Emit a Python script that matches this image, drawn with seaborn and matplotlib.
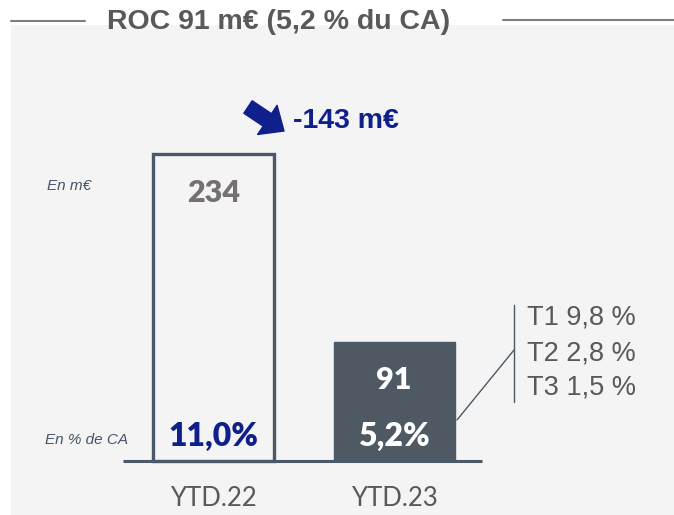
import pandas as pd
import matplotlib
matplotlib.use('Agg')
import matplotlib.pyplot as plt
import seaborn as sns
from matplotlib.lines import Line2D

# data
periods = ['YTD.22', 'YTD.23']
roc_values = [234, 91]
roc_labels = ['234', '91']
pct_labels = ['11,0%', '5,2%']
quarter_labels = ['T1 9,8 %', 'T2 2,8 %', 'T3 1,5 %']
title = 'ROC 91 m€ (5,2 % du CA)'
delta_label = '-143 m€'

slate = '#4a5967'
navy = '#0f1f8c'
grey_txt = '#595959'

sns.set_style('white')
plt.rcParams['font.family'] = ['Liberation Sans', 'DejaVu Sans']

W, H = 674, 515
fig = plt.figure(figsize=(W / 100, H / 100), dpi=100)
fig.patch.set_facecolor('white')


def px(x, y):
    # pixel position (from top-left) -> figure fraction
    return x / W, 1 - y / H


ax = fig.add_axes([11 / W, 0, 1 - 11 / W, (H - 25) / H])
ax.set_facecolor('#f4f4f4')

df = pd.DataFrame({'period': periods, 'roc': roc_values})
sns.barplot(data=df, x='period', y='roc', hue='period',
            palette=['none', slate], width=0.67, legend=False, ax=ax)

bars = ax.patches
bars[0].set_facecolor('none')
bars[0].set_edgecolor(slate)
bars[0].set_linewidth(2.4)
bars[1].set_edgecolor(slate)
bars[1].set_linewidth(1)

ax.set_xlim(-1.122, 2.551)
ax.set_ylim(-41, 332)
ax.hlines(0, -0.5, 1.49, color=slate, lw=2.2, zorder=3)

for i, (v, lab) in enumerate(zip(roc_values, roc_labels)):
    ax.annotate(lab, (i, v), xytext=(0, -28), textcoords='offset points',
                ha='center', va='center', fontsize=22, fontweight='heavy',
                family='Lato', color='#767171' if i == 0 else 'white')
    ax.annotate(pct_labels[i], (i, 0), xytext=(0, 17.5), textcoords='offset points',
                ha='center', va='center', fontsize=23, fontweight='heavy',
                family='Lato', color=navy if i == 0 else 'white')
    ax.annotate(periods[i], (i, 0), xytext=(0, -27), textcoords='offset points',
                ha='center', va='center', fontsize=18.5, family='Lato',
                color=grey_txt)

ax.set_xticks([])
ax.set_yticks([])
ax.set_xlabel('')
ax.set_ylabel('')
sns.despine(ax=ax, left=True, bottom=True)

# title with side rules
fig.text(*px(279, 22), title, ha='center', va='center', fontsize=20.5,
         fontweight='bold', color=grey_txt)
fig.add_artist(Line2D([px(11, 0)[0], px(85, 0)[0]], [px(0, 21)[1]] * 2,
                      color='#7f7f7f', lw=1.5))
fig.add_artist(Line2D([px(503, 0)[0], 1], [px(0, 20)[1]] * 2,
                      color='#7f7f7f', lw=1.5))

# variation arrow
ax.annotate('', xy=px(284, 131), xytext=px(248, 107), xycoords='figure fraction',
            textcoords='figure fraction',
            arrowprops=dict(arrowstyle='simple,head_width=1.4,head_length=0.8,tail_width=0.6',
                            color=navy, mutation_scale=18, shrinkA=0, shrinkB=0))
fig.text(*px(293, 121), delta_label, ha='left', va='center', fontsize=20.5,
         fontweight='bold', color=navy)

# side notes
fig.text(*px(69, 186), 'En m€', ha='center', va='center', fontsize=11,
         style='italic', color='#44546a')
fig.text(*px(87, 440), 'En % de CA', ha='center', va='center', fontsize=11,
         style='italic', color='#44546a')

# quarterly breakdown bracket
fig.add_artist(Line2D([px(514, 0)[0]] * 2, [px(0, 305)[1], px(0, 402)[1]],
                      color=slate, lw=1))
fig.add_artist(Line2D([px(457, 0)[0], px(514, 0)[0]], [px(0, 420)[1], px(0, 350)[1]],
                      color=slate, lw=1))
for k, q in enumerate(quarter_labels):
    fig.text(*px(527, 318 + k * 35), q, ha='left', va='center', fontsize=19.5,
             color=grey_txt)

fig.savefig('out.png', dpi=100)
